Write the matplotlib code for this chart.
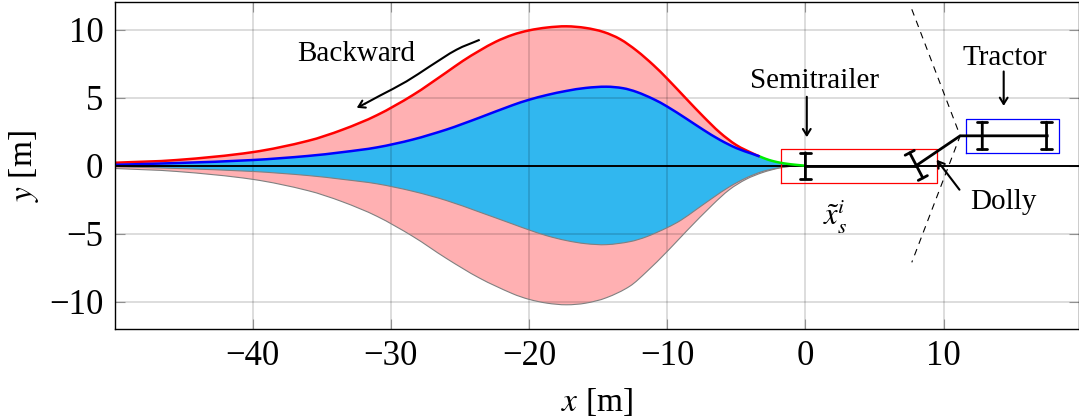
import matplotlib
matplotlib.use("Agg")
import matplotlib.pyplot as plt
from matplotlib.path import Path
from matplotlib.patches import PathPatch

plt.rcParams['font.family'] = ['Liberation Serif', 'DejaVu Sans']
plt.rcParams['mathtext.fontset'] = 'stix'

# Upper outer envelope (red)
outer_x = [-50, -45.5, -40, -36, -33.5, -31, -28.4, -26, -24.8, -23.6, -22.4, -21.2, -20, -18.7, -17.3, -15.9, -14.6, -13.4, -12.2, -11, -10,
           -8.6, -7.4, -6.2, -5, -3.8, -3.3]
outer_y = [0.22, 0.42, 1.0, 1.83, 2.65, 3.72, 5.2, 6.85, 7.7, 8.45, 9.12, 9.62, 9.95, 10.16, 10.25, 10.13, 9.83, 9.3, 8.45, 7.4, 6.4,
           4.9, 3.63, 2.45, 1.52, 0.9, 0.68]
# Upper inner envelope (blue)
inner_x = [-50, -45.5, -40, -36, -33.5, -31, -28.4, -26, -24.8, -23.6, -21.2, -20, -18.7, -17.3, -15.9, -14.4, -13.2, -12.2, -11, -10,
           -8.6, -7.4, -6.2, -5, -3.8, -3.3]
inner_y = [0.07, 0.2, 0.42, 0.72, 1.0, 1.35, 1.93, 2.65, 3.08, 3.53, 4.45, 4.85, 5.2, 5.5, 5.72, 5.81, 5.7, 5.42, 4.9, 4.35,
           3.45, 2.65, 1.91, 1.3, 0.86, 0.68]
# Lower outer envelope
lower_outer_x = [-50, -45.5, -40, -36, -33.5, -31, -28.4, -26, -23.6, -21.2, -20, -18.7, -17.3, -15.9, -14.4, -12.7, -11.5, -10,
                 -8.6, -6.7, -5.5, -4.3, -3.1, -1.9, -1]
lower_outer_y = [-0.2, -0.42, -1.0, -1.83, -2.65, -3.72, -5.2, -6.8, -8.25, -9.4, -9.82, -10.1, -10.22, -10.1, -9.7, -8.85, -7.8, -6.3,
                 -4.8, -2.85, -1.76, -1.0, -0.5, -0.17, -0.03]
# Lower inner envelope
lower_inner_x = [-50, -45.5, -40, -36, -33.5, -31, -28.4, -26, -23.6, -21.2, -20, -18.7, -17.3, -15.9, -14.4, -12.7, -11.5, -10, -9,
                 -7.9, -6.7, -5.5, -4.3, -3.1, -1.9, -1]
lower_inner_y = [-0.07, -0.2, -0.42, -0.72, -1.0, -1.33, -1.88, -2.55, -3.4, -4.28, -4.72, -5.15, -5.5, -5.73, -5.8, -5.58, -5.22, -4.55, -4.0,
                 -3.22, -2.36, -1.55, -0.9, -0.42, -0.15, -0.03]
# Green tail of the path
tail_x = [-3.3, -2.8, -2.3, -1.8, -1.3, -0.8, -0.4, 0]
tail_y = [0.68, 0.48, 0.33, 0.22, 0.14, 0.08, 0.04, 0]

# Vehicle geometry
path_x = [-50, 20]
path_y = [0, 0]
semi_x = [0, 8.0]
semi_y = [0, 0]
link_x = [8.0, 11.2, 17.5]
link_y = [0, 2.2, 2.2]
axle_semi = ([0, 0], [-0.95, 0.95])
axle_dolly = ([7.55, 8.5], [0.95, -0.9])
axle_rear = ([12.8, 12.8], [1.2, 3.2])
axle_front = ([17.45, 17.45], [1.2, 3.2])
dash_x = [7.7, 11.2, 7.7]
dash_y = [11.5, 2.2, -7.1]
red_box_x = [-1.8, 9.5, 9.5, -1.8, -1.8]
red_box_y = [-1.25, -1.25, 1.25, 1.25, -1.25]
blue_box_x = [11.6, 18.35, 18.35, 11.6, 11.6]
blue_box_y = [0.93, 0.93, 3.4, 3.4, 0.93]
back_x = [-31.9, -30.8, -28.87, -27.19, -25.25, -23.57]
back_y = [4.55, 5.15, 6.2, 7.3, 8.53, 9.26]
back_tip = (-32.47, 4.26)

x_ticks = [-40, -30, -20, -10, 0, 10]
y_ticks = [-10, -5, 0, 5, 10]


def smooth_segments(xs, ys):
    """Bezier control vertices of a smooth curve through the read points."""
    n = len(xs)
    m = []
    for i in range(n):
        a, b = max(i - 1, 0), min(i + 1, n - 1)
        m.append((ys[b] - ys[a]) / (xs[b] - xs[a]))
    verts = []
    for i in range(n - 1):
        d = (xs[i + 1] - xs[i]) / 3
        verts += [(xs[i] + d, ys[i] + m[i] * d),
                  (xs[i + 1] - d, ys[i + 1] - m[i + 1] * d),
                  (xs[i + 1], ys[i + 1])]
    return verts


def curve_path(xs, ys):
    verts = [(xs[0], ys[0])] + smooth_segments(xs, ys)
    return Path(verts, [Path.MOVETO] + [Path.CURVE4] * (len(verts) - 1))


def band_path(up_x, up_y, lo_x, lo_y):
    v = [(up_x[0], up_y[0])] + smooth_segments(up_x, up_y)
    c = [Path.MOVETO] + [Path.CURVE4] * (len(v) - 1)
    v2 = smooth_segments(lo_x[::-1], lo_y[::-1])
    v += [(lo_x[-1], lo_y[-1])] + v2 + [(up_x[0], up_y[0])]
    c += [Path.LINETO] + [Path.CURVE4] * len(v2) + [Path.CLOSEPOLY]
    return Path(v, c)


fig = plt.figure(figsize=(10.79, 4.19), dpi=100)
ax = fig.add_axes([114.5 / 1079, 1 - 329 / 419, (1079 - 114.5) / 1079, (329 - 2.5) / 419])


def draw_curve(xs, ys, color, lw, z):
    ax.add_patch(PathPatch(curve_path(xs, ys), fill=False, edgecolor=color, lw=lw, zorder=z, capstyle='butt'))


ax.add_patch(PathPatch(band_path(outer_x, outer_y, lower_outer_x, lower_outer_y), facecolor='#ffb0b2', lw=0, zorder=1))
ax.add_patch(PathPatch(band_path(inner_x, inner_y, lower_inner_x, lower_inner_y), facecolor='#31b7ef', lw=0, zorder=2))
draw_curve(lower_outer_x, lower_outer_y, '#808080', 0.8, 3)
draw_curve(lower_inner_x, lower_inner_y, '#808080', 0.8, 3)
draw_curve(outer_x, outer_y, '#ff0000', 1.8, 4)
draw_curve(inner_x, inner_y, '#0000ff', 1.8, 5)
ax.plot(path_x, path_y, color='black', lw=1.4, zorder=6)
draw_curve(tail_x, tail_y, '#00ee00', 1.8, 7)

ax.plot(red_box_x, red_box_y, color='#ff0000', lw=0.9, zorder=6)
ax.plot(blue_box_x, blue_box_y, color='#0000ff', lw=0.9, zorder=6)
ax.plot(dash_x, dash_y, color='black', lw=0.8, dashes=(6, 5), zorder=6)
ax.plot(semi_x, semi_y, color='black', lw=2.0, zorder=8)
ax.plot(link_x, link_y, color='black', lw=2.0, zorder=8, solid_joinstyle='miter')
for xs, ys in (axle_semi, axle_dolly, axle_rear, axle_front):
    ax.annotate('', xy=(xs[0], ys[0]), xytext=(xs[1], ys[1]),
                arrowprops=dict(arrowstyle='|-|,widthA=0.37,widthB=0.37', lw=2.0, color='black', shrinkA=0, shrinkB=0),
                zorder=8)

arrow = dict(arrowstyle='->,head_length=0.45,head_width=0.28', lw=1.5, color='black', shrinkA=0, shrinkB=0)
draw_curve(back_x, back_y, 'black', 1.5, 9)
ax.annotate('', xy=back_tip, xytext=(back_x[0], back_y[0]), arrowprops=arrow, zorder=9)
ax.annotate('', xy=(0.1, 2.1), xytext=(0.1, 5.07), arrowprops=arrow, zorder=9)
ax.annotate('', xy=(14.35, 4.4), xytext=(14.35, 6.93), arrowprops=arrow, zorder=9)
ax.annotate('', xy=(9.5, 0.44), xytext=(11.15, -1.76), arrowprops=arrow, zorder=9)

tk = dict(fontsize=21, ha='center', va='center', zorder=10)
ax.text(-32.5, 8.2, 'Backward', **tk)
ax.text(0.65, 6.2, 'Semitrailer', **tk)
ax.text(14.4, 7.95, 'Tractor', **tk)
ax.text(14.3, -2.65, 'Dolly', **tk)
ax.text(2.2, -3.75, r'$\tilde{x}_s^i$', fontsize=22, ha='center', va='center', zorder=10)

ax.set_xlim(-50, 19.8)
ax.set_ylim(-12, 12)
ax.set_xticks(x_ticks)
ax.set_yticks(y_ticks)
ax.set_xticklabels([str(v).replace('-', '\u2212') for v in x_ticks])
ax.set_yticklabels([str(v).replace('-', '\u2212') for v in y_ticks])
ax.set_axisbelow(False)
ax.grid(True, color='black', alpha=0.15, lw=1.3)
ax.tick_params(axis='both', direction='in', length=7, width=0.8, color='#909090',
               top=True, right=True, labelsize=25, pad=8)
for s in ax.spines.values():
    s.set_linewidth(1.0)
    s.set_color('black')
    s.set_zorder(11)
ax.set_xlabel('$x$ [m]', fontsize=24, labelpad=9)
ax.set_ylabel('$y$ [m]', fontsize=24, labelpad=6)

fig.savefig('out.png', dpi=100)
